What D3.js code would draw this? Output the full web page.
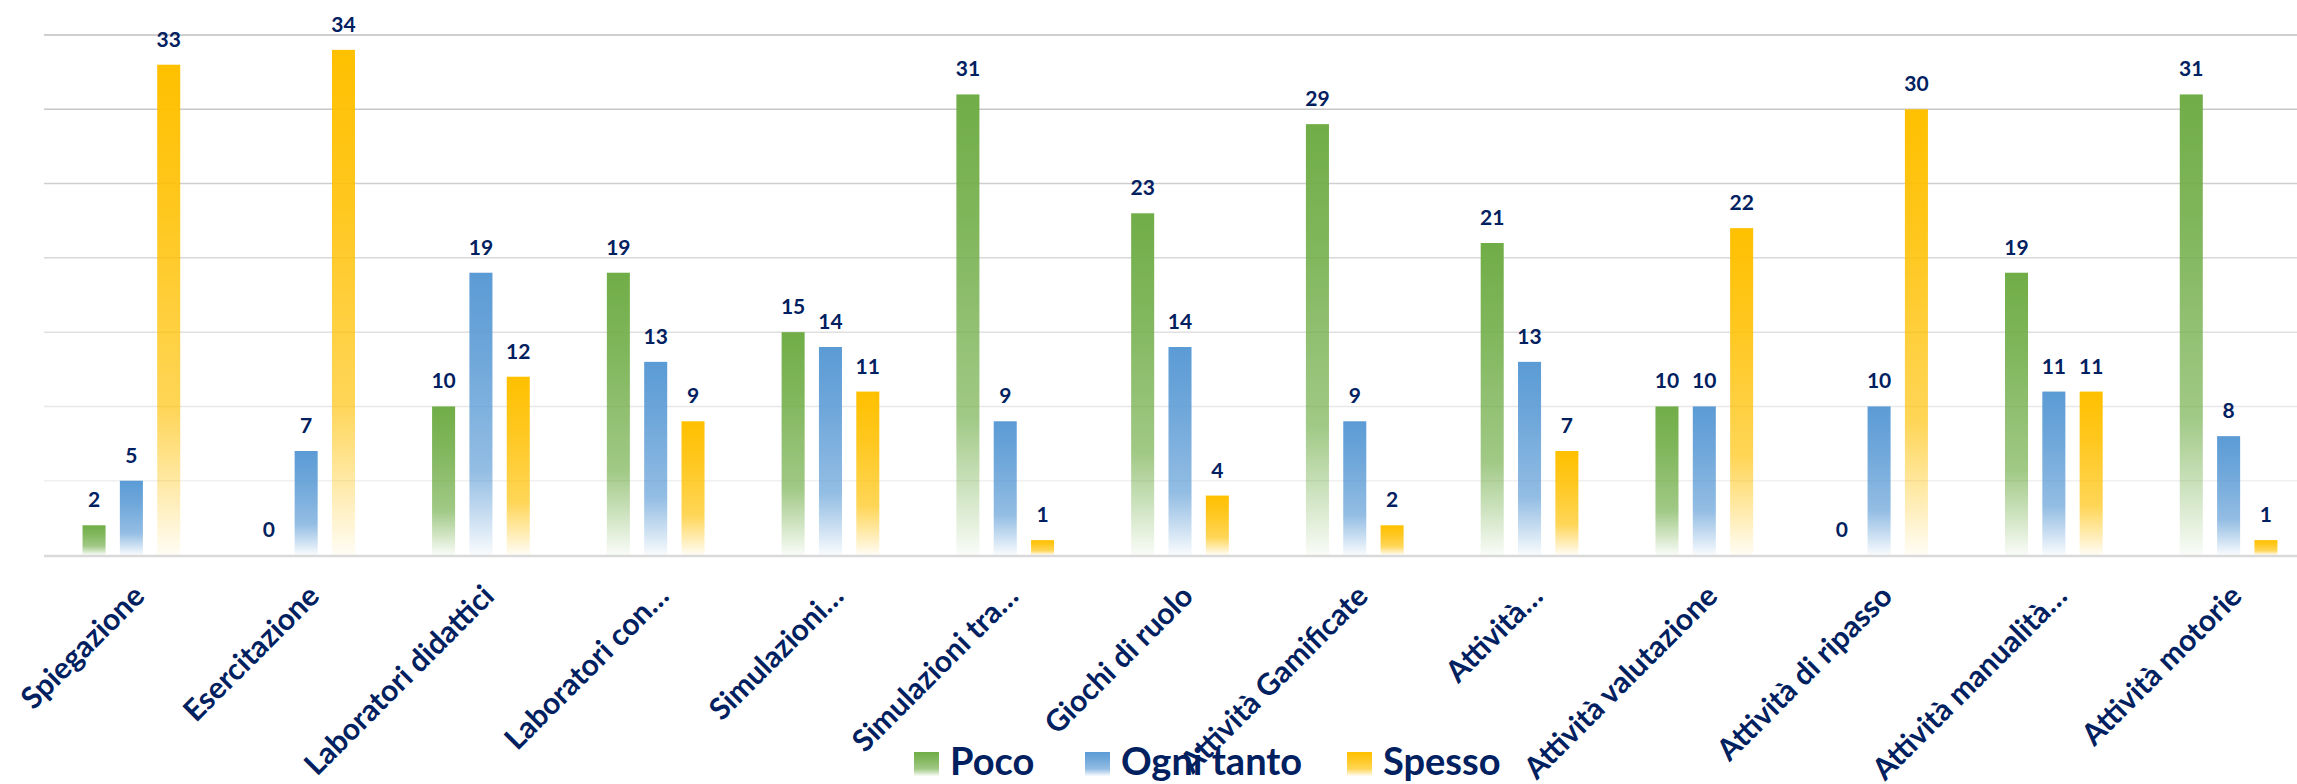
<!DOCTYPE html>
<html>
<head>
<meta charset="utf-8">
<script src="https://cdn.jsdelivr.net/npm/d3@7"></script>
<style>
  html, body { margin: 0; padding: 0; background: #ffffff; }
  svg { display: block; }
  text { font-family: Lato, "Open Sans", sans-serif; font-weight: 700; }
</style>
</head>
<body>
<svg id="chart" width="2297" height="784"></svg>
<script>
const categories = ["Spiegazione","Esercitazione","Laboratori didattici","Laboratori con…","Simulazioni…","Simulazioni tra…","Giochi di ruolo","Attività Gamificate","Attività…","Attività valutazione","Attività di ripasso","Attività manualità…","Attività motorie"];
const seriesNames = ["Poco","Ogni tanto","Spesso"];
const poco   = [2,0,10,19,15,31,23,29,21,10,0,19,31];
const ogni   = [5,7,19,13,14,9,14,9,13,10,10,11,8];
const spesso = [33,34,12,9,11,1,4,2,7,22,30,11,1];
const seriesValues = [poco, ogni, spesso];
const seriesColors = ["#70ad47","#5b9bd5","#ffc000"];
const yTicks = [5,10,15,20,25,30,35];

const svg = d3.select("#chart");
const W = 2297, H = 784;
const plotLeft = 44, plotRight = 2316, plotTop = 35, plotBottom = 555;

const x = d3.scaleBand().domain(categories).range([plotLeft, plotRight]).paddingInner(0).paddingOuter(0);
const xs = d3.scaleBand().domain(seriesNames).range([-56, 56]).paddingInner(0.383).paddingOuter(0.1915);
const y = d3.scaleLinear().domain([0, 35]).range([plotBottom, plotTop]);

// gradients
const defs = svg.append("defs");
seriesNames.forEach((s, i) => {
  const g = defs.append("linearGradient").attr("id", "grad" + i)
    .attr("x1", 0).attr("y1", 0).attr("x2", 0).attr("y2", 1);
  [[0,1],[0.3,0.88],[0.7,0.66],[0.85,0.36],[1,0.04]].forEach(([o, a]) => {
    g.append("stop").attr("offset", o).attr("stop-color", seriesColors[i]).attr("stop-opacity", a);
  });
});

// gridlines
const gridColor = d3.scaleLinear().domain([5, 35]).range(["#f0f0f0", "#bfbfbf"]);
svg.append("g").selectAll("line").data(yTicks).join("line")
  .attr("x1", plotLeft).attr("x2", W)
  .attr("y1", d => y(d)).attr("y2", d => y(d))
  .attr("stroke", d => gridColor(d)).attr("stroke-width", 1.5);

// bars
const barData = [];
categories.forEach((c, ci) => {
  seriesNames.forEach((s, si) => {
    barData.push({ c, s, si, v: seriesValues[si][ci] });
  });
});
const xc = d => x(d.c) + x.bandwidth() / 2 + xs(d.s);

svg.append("g").selectAll("rect").data(barData.filter(d => d.v > 0)).join("rect")
  .attr("x", d => xc(d))
  .attr("width", xs.bandwidth())
  .attr("y", d => y(d.v))
  .attr("height", d => y(0) - y(d.v))
  .attr("fill", d => `url(#grad${d.si})`);

// baseline
svg.append("line").attr("x1", plotLeft).attr("x2", W)
  .attr("y1", y(0) + 1).attr("y2", y(0) + 1)
  .attr("stroke", "#d9d9d9").attr("stroke-width", 2.5);

// value labels
svg.append("g").selectAll("text").data(barData).join("text")
  .attr("x", d => xc(d) + xs.bandwidth() / 2)
  .attr("y", d => y(d.v) - 18)
  .attr("text-anchor", "middle")
  .attr("font-size", 21)
  .attr("fill", "#002060")
  .text(d => d.v);

// category labels
svg.append("g").selectAll("text").data(categories).join("text")
  .attr("transform", d => `translate(${x(d) + x.bandwidth() / 2 + 15},598) rotate(-45)`)
  .attr("text-anchor", "end")
  .attr("font-size", 30)
  .attr("fill", "#002060")
  .text(d => d);

// legend
const legendX = [914, 1085, 1347];
const lg = svg.append("g");
seriesNames.forEach((s, i) => {
  lg.append("rect").attr("x", legendX[i]).attr("y", 752).attr("width", 25).attr("height", 24)
    .attr("fill", `url(#grad${i})`);
  lg.append("text").attr("x", legendX[i] + 36).attr("y", 775)
    .attr("font-size", 38).attr("fill", "#002060").text(s);
});
</script>
</body>
</html>
